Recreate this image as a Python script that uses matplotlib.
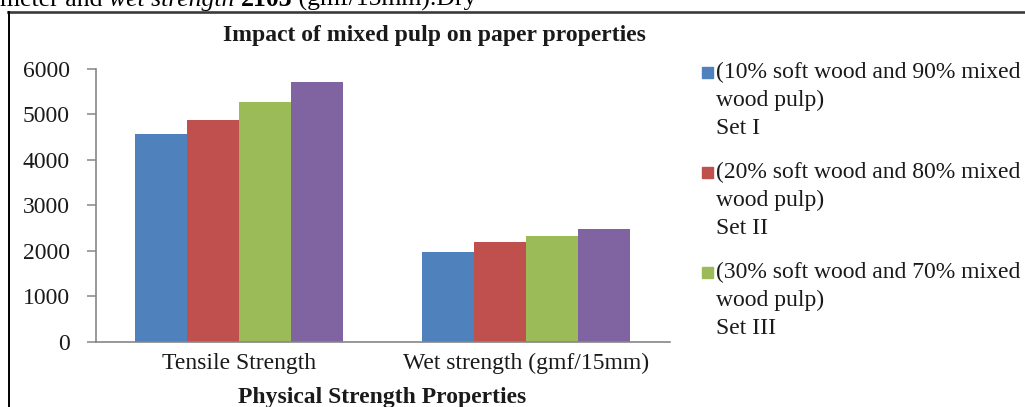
import matplotlib
matplotlib.use("Agg")
import matplotlib.pyplot as plt
from matplotlib.patches import Rectangle
from matplotlib.lines import Line2D
import numpy as np

# ---- data ----
categories = ["Tensile Strength", "Wet strength (gmf/15mm)"]
series_labels = [
    "(10% soft wood and 90% mixed\nwood pulp)\nSet I",
    "(20% soft wood and 80% mixed\nwood pulp)\nSet II",
    "(30% soft wood and 70% mixed\nwood pulp)\nSet III",
    "(40% soft wood and 60% mixed\nwood pulp)\nSet IV",
]
set1 = [4570, 1967]
set2 = [4870, 2187]
set3 = [5267, 2319]
set4 = [5707, 2487]
series_values = [set1, set2, set3, set4]
legend_count = 3  # only three entries visible in the reference
yticks = [0, 1000, 2000, 3000, 4000, 5000, 6000]

title = "Impact of mixed pulp on paper properties"
xlabel = "Physical Strength Properties"
# cut-off document text above the chart: (text, style, weight)
top_text_parts = [("meter and ", "normal", "normal"),
                  ("wet strength ", "italic", "normal"),
                  ("2103", "normal", "bold"),
                  (" (gmf/15mm).Dry", "normal", "normal")]

colors = ["#4F81BD", "#C0504D", "#9BBB59", "#8064A2"]

W, H = 1025, 407
fig = plt.figure(figsize=(W / 100, H / 100), dpi=100)
serif = ["Liberation Serif", "DejaVu Serif"]
plt.rcParams["font.family"] = serif
FS = 17

ax = fig.add_axes([95.7 / W, 1 - 341.7 / H, (670 - 95.7) / W, (341.7 - 69) / H])

n = len(series_values)
bw = 0.181
x = np.arange(len(categories))
for i, vals in enumerate(series_values):
    ax.bar(x + (i - (n - 1) / 2) * bw, vals, width=bw, color=colors[i],
           edgecolor="none", label=series_labels[i], zorder=2)

ax.set_xlim(-0.5, len(categories) - 0.5)
ax.set_ylim(0, 6000)
ax.set_yticks(yticks)
ax.set_yticklabels([str(v) for v in yticks], fontsize=FS, color="#1a1a1a")
ax.set_xticks(x)
ax.set_xticklabels(categories, fontsize=FS, color="#1a1a1a")
ax.tick_params(axis="x", length=0, pad=8)
ax.tick_params(axis="y", length=6.5, width=1.1, color="#868686", pad=12)
for s in ["top", "right"]:
    ax.spines[s].set_visible(False)
for s in ["left", "bottom"]:
    ax.spines[s].set_color("#868686")
    ax.spines[s].set_linewidth(1.2)

# title and axis label
fig.text(434 / W, 1 - 35 / H, title, ha="center", va="center",
         fontsize=FS, fontweight="bold", color="#1a1a1a")
fig.text(382 / W, 1 - 398 / H, xlabel, ha="center", va="center",
         fontsize=FS, fontweight="bold", color="#1a1a1a")

# cut-off document text at the very top
renderer = fig.canvas.get_renderer()
xpos = 0.0
for txt, style, weight in top_text_parts:
    t = fig.text(xpos / W, 1 - 6 / H, txt, ha="left", va="baseline",
                 fontsize=18.5, fontstyle=style, fontweight=weight, color="black")
    bb = t.get_window_extent(renderer=renderer)
    xpos += bb.width

# frame of the chart (top and left edges visible)
fig.add_artist(Line2D([8 / W, 1.0], [1 - 12 / H, 1 - 12 / H],
                      transform=fig.transFigure, color="#3a3a3a", lw=1.9))
fig.add_artist(Line2D([8.5 / W, 8.5 / W], [1 - 12 / H, 0],
                      transform=fig.transFigure, color="black", lw=1.4))

# manual legend
for i in range(legend_count):
    y0 = 72 + i * 100
    fig.add_artist(Rectangle((702 / W, 1 - (y0 + 6) / H), 11 / W, 11 / H,
                             transform=fig.transFigure, color=colors[i]))
    lines = series_labels[i].split("\n")
    for j, ln in enumerate(lines):
        fig.text(716 / W, 1 - (y0 + j * 28.2) / H, ln, ha="left", va="center",
                 fontsize=FS, color="#1a1a1a")

fig.savefig("out.png", dpi=100)
